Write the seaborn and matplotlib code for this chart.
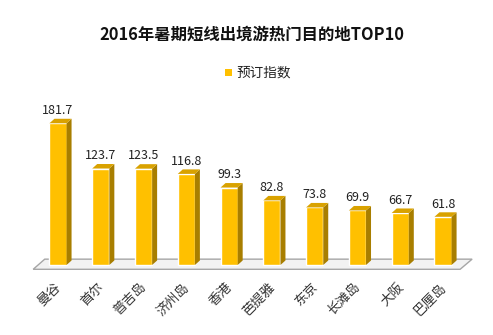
import matplotlib
matplotlib.use("Agg")
import matplotlib.pyplot as plt
import seaborn as sns
import pandas as pd
from matplotlib.patches import Polygon

categories = ["曼谷", "首尔", "普吉岛", "济州岛", "香港", "芭提雅", "东京", "长滩岛", "大阪", "巴厘岛"]
values = [181.7, 123.7, 123.5, 116.8, 99.3, 82.8, 73.8, 69.9, 66.7, 61.8]
series_name = "预订指数"
title = "2016年暑期短线出境游热门目的地TOP10"

sns.set_style("white")
plt.rcParams["font.family"] = ["Noto Sans CJK SC", "DejaVu Sans"]

df = pd.DataFrame({"cat": categories, "val": values})

fig = plt.figure(figsize=(4.93, 3.35), dpi=100)
ax = fig.add_axes([0, 0, 1, 1])

front = "#FFC000"
side = "#A87E00"
top = "#D9A200"

sns.barplot(data=df, x="cat", y="val", color=front, width=0.40, ax=ax,
            saturation=1, zorder=3)

pxx = 42.78
pxy = 0.78
ax.set_xlim(-58 / pxx, (493 - 58) / pxx)
ax.set_ylim(-70 / pxy, 265 / pxy)
ax.axis("off")

dx = 5 / pxx
dy = 4.5 / pxy

n = len(categories)
# floor
floor = Polygon([(-0.58, -5.5), (n - 1 + 0.40, -5.5), (n - 1 + 0.68, 7.5), (-0.31, 7.5)],
                closed=True, facecolor="#F2F2F2", edgecolor="#A6A6A6", linewidth=1.0, zorder=1)
ax.add_patch(floor)

for p in list(ax.patches):
    if p is floor:
        continue
    x = p.get_x()
    w = p.get_width()
    h = p.get_height()
    ax.add_patch(Polygon([(x + w, 0), (x + w + dx, dy), (x + w + dx, h + dy), (x + w, h)],
                         closed=True, facecolor=side, edgecolor="none", zorder=3))
    ax.add_patch(Polygon([(x, h), (x + dx, h + dy), (x + w + dx, h + dy), (x + w, h)],
                         closed=True, facecolor=top, edgecolor="none", zorder=3))
    ax.text(x + w / 2, h + 8, f"{h:.1f}", ha="center", va="bottom", fontsize=9,
            color="#222222", zorder=4)

for i, c in enumerate(categories):
    ax.text(i - 0.08, -20, c, rotation=45, ha="right", va="top", fontsize=9.5,
            color="#333333", rotation_mode="anchor")

fig.text(252 / 493, 1 - 35 / 335, title, ha="center", va="center", fontsize=11.8,
         fontweight="bold", color="#111111")

fig.patches.append(plt.Rectangle((225 / 493, 1 - 76 / 335), 7 / 493, 7 / 335,
                                 transform=fig.transFigure, facecolor=front, edgecolor="none"))
fig.text(236 / 493, 1 - 72 / 335, series_name, ha="left", va="center", fontsize=9.8,
         color="#222222")

fig.savefig("out.png", dpi=100)
